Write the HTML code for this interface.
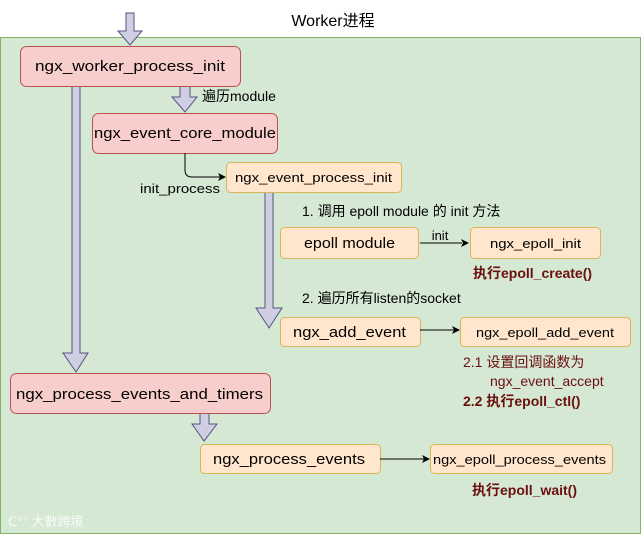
<!DOCTYPE html>
<html><head><meta charset="utf-8"><style>
html,body{margin:0;padding:0;background:#fff;}
svg{display:block;}
text{font-family:"Liberation Sans","Noto Sans CJK SC",sans-serif;}
.b{font-size:15px;fill:#000;}
.s{font-size:13px;fill:#000;}
.r{font-size:14px;fill:#6b0f0f;font-weight:bold;}
.rn{font-size:14px;fill:#6b0f0f;}
</style></head><body>
<svg width="641" height="534" viewBox="0 0 641 534" xmlns="http://www.w3.org/2000/svg">
<rect x="0.5" y="37.5" width="640" height="496" fill="#d5e8d4" stroke="#82b366"/>
<text x="333" y="26" font-size="16" text-anchor="middle" fill="#000">Worker进程</text>
<g fill="#d0cee2" stroke="#56517e" stroke-width="1">
<path d="M126 13 H134 V31 H142 L130 45 L118 31 H126 Z"/>
<path d="M72 86 H80 V353 H88 L76 372 L63 353 H72 Z"/>
<path d="M180 86 H190 V97 H197 L185 112 L172 97 H180 Z"/>
<path d="M265 192 H273 V308 H282 L269 328 L256 308 H265 Z"/>
<path d="M200 413 H209 V424 H217 L204 441 L192 424 H200 Z"/>
</g>
<g fill="#f8cecc" stroke="#b85450">
<rect x="20.5" y="46.5" width="220" height="40" rx="6"/>
<rect x="92.5" y="113.5" width="185" height="40" rx="6"/>
<rect x="10.5" y="373.5" width="260" height="40" rx="6"/>
</g>
<g fill="#ffe6cc" stroke="#d6b656">
<rect x="226.5" y="162.5" width="175" height="30" rx="4"/>
<rect x="280.5" y="227.5" width="138" height="31" rx="4"/>
<rect x="470.5" y="227.5" width="130" height="31" rx="4"/>
<rect x="280.5" y="317.5" width="140" height="29" rx="4"/>
<rect x="460.5" y="317.5" width="170" height="29" rx="4"/>
<rect x="200.5" y="444.5" width="180" height="29" rx="4"/>
<rect x="430.5" y="444.5" width="182" height="29" rx="4"/>
</g>
<g stroke="#000" fill="none" stroke-width="1">
<path d="M185 153 V170 Q185 177 192 177 H220"/>
<path d="M420 243 H462"/>
<path d="M420 330 H454"/>
<path d="M380 459 H424"/>
</g>
<g fill="#000">
<path d="M226 177 L218 173 L220 177 L218 181 Z"/>
<path d="M469 243 L461 239 L463 243 L461 247 Z"/>
<path d="M460 330 L452 326 L454 330 L452 334 Z"/>
<path d="M430 459 L422 455 L424 459 L422 463 Z"/>
</g>
<text class="b" x="35" y="71" textLength="190" lengthAdjust="spacingAndGlyphs">ngx_worker_process_init</text>
<text x="202" y="101" font-size="14" fill="#000">遍历module</text>
<text class="b" x="94" y="138" textLength="182" lengthAdjust="spacingAndGlyphs">ngx_event_core_module</text>
<text class="s" x="140" y="193" textLength="80" lengthAdjust="spacingAndGlyphs">init_process</text>
<text class="s" x="235" y="182" textLength="157" lengthAdjust="spacingAndGlyphs">ngx_event_process_init</text>
<text x="302" y="216" font-size="14" fill="#000">1. 调用 epoll module 的 init 方法</text>
<text class="b" x="304" y="248" textLength="91" lengthAdjust="spacingAndGlyphs">epoll module</text>
<text class="s" x="440" y="240" text-anchor="middle">init</text>
<text class="s" x="490" y="248" textLength="91" lengthAdjust="spacingAndGlyphs">ngx_epoll_init</text>
<text class="r" x="473" y="278">执行epoll_create()</text>
<text x="302" y="303" font-size="14" fill="#000">2. 遍历所有listen的socket</text>
<text class="b" x="293" y="337" textLength="113" lengthAdjust="spacingAndGlyphs">ngx_add_event</text>
<text class="s" x="476" y="337" textLength="138" lengthAdjust="spacingAndGlyphs">ngx_epoll_add_event</text>
<text class="rn" x="463" y="367">2.1 设置回调函数为</text>
<text class="rn" x="490" y="386">ngx_event_accept</text>
<text class="r" x="463" y="406">2.2 执行epoll_ctl()</text>
<text class="b" x="16" y="399" textLength="247" lengthAdjust="spacingAndGlyphs">ngx_process_events_and_timers</text>
<text class="b" x="213" y="464" textLength="152" lengthAdjust="spacingAndGlyphs">ngx_process_events</text>
<text class="s" x="433" y="464" textLength="173" lengthAdjust="spacingAndGlyphs">ngx_epoll_process_events</text>
<text class="r" x="472" y="495">执行epoll_wait()</text>
<text x="8" y="526" font-size="13" fill="#ffffff" opacity="0.85">ᑕ°° 大數跨境</text>
</svg>
</body></html>
